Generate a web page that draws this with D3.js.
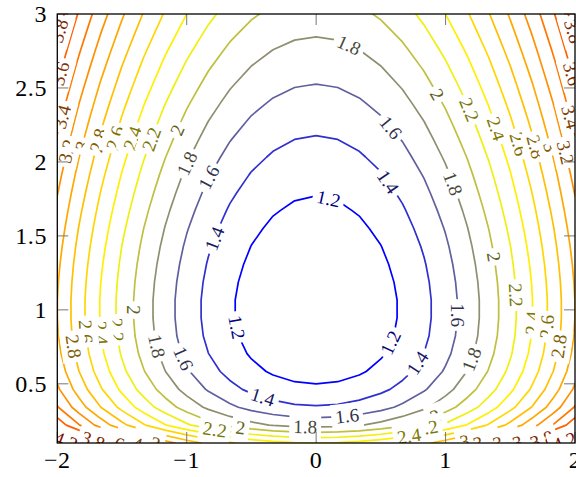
<!DOCTYPE html>
<html>
<head>
<meta charset="utf-8">
<title>contour</title>
<script src="https://cdn.jsdelivr.net/npm/d3@7"></script>
<style>
  body { margin: 0; background: #fff; }
  svg { display: block; }
  .tick-label { font-family: "Liberation Serif", serif; font-size: 24px; letter-spacing: 0.6px; fill: #000; }
  .clabel { font-family: "Liberation Serif", serif; font-size: 19px; }
</style>
</head>
<body>
<div id="chart"></div>
<script>
// sample grid (25 x 25), rows go from y = 0.1 (bottom) to y = 3 (top)
var xs = [-2, -1.833, -1.667, -1.5, -1.333, -1.167, -1, -0.833, -0.667, -0.5, -0.333, -0.167, 0,
          0.167, 0.333, 0.5, 0.667, 0.833, 1, 1.167, 1.333, 1.5, 1.667, 1.833, 2];
var ys = [0.1, 0.221, 0.342, 0.463, 0.583, 0.704, 0.825, 0.946, 1.067, 1.188, 1.308, 1.429, 1.55,
          1.671, 1.792, 1.913, 2.033, 2.154, 2.275, 2.396, 2.517, 2.638, 2.758, 2.879, 3];
var zRows = [
  [4.403,4.084,3.792,3.528,3.292,3.084,2.903,2.750,2.625,2.528,2.459,2.417,2.403,2.417,2.459,2.528,2.625,2.750,2.903,3.084,3.292,3.528,3.792,4.084,4.403],
  [3.731,3.412,3.120,2.856,2.620,2.412,2.231,2.078,1.953,1.856,1.787,1.745,1.731,1.745,1.787,1.856,1.953,2.078,2.231,2.412,2.620,2.856,3.120,3.412,3.731],
  [3.416,3.097,2.805,2.541,2.305,2.097,1.916,1.763,1.638,1.541,1.472,1.430,1.416,1.430,1.472,1.541,1.638,1.763,1.916,2.097,2.305,2.541,2.805,3.097,3.416],
  [3.234,2.915,2.623,2.359,2.123,1.915,1.734,1.581,1.456,1.359,1.290,1.248,1.234,1.248,1.290,1.359,1.456,1.581,1.734,1.915,2.123,2.359,2.623,2.915,3.234],
  [3.122,2.803,2.511,2.247,2.011,1.803,1.622,1.469,1.344,1.247,1.178,1.136,1.122,1.136,1.178,1.247,1.344,1.469,1.622,1.803,2.011,2.247,2.511,2.803,3.122],
  [3.055,2.736,2.444,2.180,1.944,1.736,1.555,1.402,1.277,1.180,1.111,1.069,1.055,1.069,1.111,1.180,1.277,1.402,1.555,1.736,1.944,2.180,2.444,2.736,3.055],
  [3.017,2.698,2.406,2.142,1.906,1.698,1.517,1.364,1.239,1.142,1.073,1.031,1.017,1.031,1.073,1.142,1.239,1.364,1.517,1.698,1.906,2.142,2.406,2.698,3.017],
  [3.002,2.683,2.391,2.127,1.891,1.683,1.502,1.349,1.224,1.127,1.058,1.016,1.002,1.016,1.058,1.127,1.224,1.349,1.502,1.683,1.891,2.127,2.391,2.683,3.002],
  [3.002,2.683,2.391,2.127,1.891,1.683,1.502,1.349,1.224,1.127,1.058,1.016,1.002,1.016,1.058,1.127,1.224,1.349,1.502,1.683,1.891,2.127,2.391,2.683,3.002],
  [3.016,2.697,2.405,2.141,1.905,1.697,1.516,1.363,1.238,1.141,1.072,1.030,1.016,1.030,1.072,1.141,1.238,1.363,1.516,1.697,1.905,2.141,2.405,2.697,3.016],
  [3.040,2.721,2.429,2.165,1.929,1.721,1.540,1.387,1.262,1.165,1.096,1.054,1.040,1.054,1.096,1.165,1.262,1.387,1.540,1.721,1.929,2.165,2.429,2.721,3.040],
  [3.072,2.753,2.461,2.197,1.961,1.753,1.572,1.419,1.294,1.197,1.128,1.086,1.072,1.086,1.128,1.197,1.294,1.419,1.572,1.753,1.961,2.197,2.461,2.753,3.072],
  [3.112,2.793,2.501,2.237,2.001,1.793,1.612,1.459,1.334,1.237,1.168,1.126,1.112,1.126,1.168,1.237,1.334,1.459,1.612,1.793,2.001,2.237,2.501,2.793,3.112],
  [3.158,2.839,2.547,2.283,2.047,1.839,1.658,1.505,1.380,1.283,1.214,1.172,1.158,1.172,1.214,1.283,1.380,1.505,1.658,1.839,2.047,2.283,2.547,2.839,3.158],
  [3.209,2.890,2.598,2.334,2.098,1.890,1.709,1.556,1.431,1.334,1.265,1.223,1.209,1.223,1.265,1.334,1.431,1.556,1.709,1.890,2.098,2.334,2.598,2.890,3.209],
  [3.264,2.945,2.653,2.389,2.153,1.945,1.764,1.611,1.486,1.389,1.320,1.278,1.264,1.278,1.320,1.389,1.486,1.611,1.764,1.945,2.153,2.389,2.653,2.945,3.264],
  [3.324,3.005,2.713,2.449,2.213,2.005,1.824,1.671,1.546,1.449,1.380,1.338,1.324,1.338,1.380,1.449,1.546,1.671,1.824,2.005,2.213,2.449,2.713,3.005,3.324],
  [3.387,3.068,2.776,2.512,2.276,2.068,1.887,1.734,1.609,1.512,1.443,1.401,1.387,1.401,1.443,1.512,1.609,1.734,1.887,2.068,2.276,2.512,2.776,3.068,3.387],
  [3.453,3.134,2.842,2.578,2.342,2.134,1.953,1.800,1.675,1.578,1.509,1.467,1.453,1.467,1.509,1.578,1.675,1.800,1.953,2.134,2.342,2.578,2.842,3.134,3.453],
  [3.522,3.203,2.911,2.647,2.411,2.203,2.022,1.869,1.744,1.647,1.578,1.536,1.522,1.536,1.578,1.647,1.744,1.869,2.022,2.203,2.411,2.647,2.911,3.203,3.522],
  [3.594,3.275,2.983,2.719,2.483,2.275,2.094,1.941,1.816,1.719,1.650,1.608,1.594,1.608,1.650,1.719,1.816,1.941,2.094,2.275,2.483,2.719,2.983,3.275,3.594],
  [3.668,3.349,3.057,2.793,2.557,2.349,2.168,2.015,1.890,1.793,1.724,1.682,1.668,1.682,1.724,1.793,1.890,2.015,2.168,2.349,2.557,2.793,3.057,3.349,3.668],
  [3.744,3.425,3.133,2.869,2.633,2.425,2.244,2.091,1.966,1.869,1.800,1.758,1.744,1.758,1.800,1.869,1.966,2.091,2.244,2.425,2.633,2.869,3.133,3.425,3.744],
  [3.822,3.503,3.211,2.947,2.711,2.503,2.322,2.169,2.044,1.947,1.878,1.836,1.822,1.836,1.878,1.947,2.044,2.169,2.322,2.503,2.711,2.947,3.211,3.503,3.822],
  [3.901,3.582,3.290,3.026,2.790,2.582,2.401,2.248,2.123,2.026,1.957,1.915,1.901,1.915,1.957,2.026,2.123,2.248,2.401,2.582,2.790,3.026,3.290,3.582,3.901]
];

var levels = [1.2, 1.4, 1.6, 1.8, 2, 2.2, 2.4, 2.6, 2.8, 3, 3.2, 3.4, 3.6, 3.8, 4, 4.2, 4.4];
var xTicks = [-2, -1, 0, 1, 2];
var yTicks = [0.5, 1, 1.5, 2, 2.5, 3];

// contour labels: [level, x, y] (approximate spot, snapped onto the line)
var contourLabels = [
  [1.8, 0.247, 2.777], [1.6, 0.572, 2.229], [1.4, 0.533, 1.851], [1.2, 0.093, 1.742],
  [2, 0.927, 2.452], [2.2, 1.175, 2.351], [2.4, 1.383, 2.222], [2.6, 1.538, 2.114],
  [2.8, 1.692, 2.101], [3, 1.808, 2.101], [3.2, 1.94, 2.067], [3.4, 1.94, 2.297],
  [3.6, 1.947, 2.588], [3.8, 1.947, 2.872],
  [3.8, -1.955, 2.878], [3.6, -1.963, 2.594], [3.4, -1.963, 2.304], [3.2, -1.963, 2.08],
  [3, -1.839, 2.114], [2.8, -1.692, 2.148], [2.6, -1.553, 2.162], [2.4, -1.422, 2.162],
  [2.2, -1.298, 2.162], [2, -1.074, 2.216], [1.8, -1.02, 1.999], [1.6, -0.819, 1.891],
  [1.4, -0.796, 1.485], [1.2, -0.649, 0.877],
  [2, -1.422, 0.999], [2.2, -1.569, 0.863], [2.4, -1.692, 0.843], [2.6, -1.824, 0.85],
  [2.8, -1.901, 0.749], [1.8, -1.26, 0.749], [1.6, -1.051, 0.661], [1.4, -0.417, 0.397],
  [1.6, 0.24, 0.275], [1.8, -0.085, 0.201], [2, -0.587, 0.187], [2.2, -0.796, 0.12],
  [3.2, -1.298, 0.1], [3.4, -1.437, 0.1], [3.6, -1.576, 0.1], [3.8, -1.731, 0.1], [4.2, -1.94, 0.1],
  [1.2, 0.58, 0.776], [1.4, 0.773, 0.647], [1.6, 1.097, 0.965], [1.8, 1.213, 0.661],
  [1.8, 1.028, 1.844], [2, 1.368, 1.357], [2.2, 1.546, 1.1], [2.4, 1.677, 0.911],
  [2.6, 1.816, 0.884], [2.8, 1.917, 0.749],
  [2, 0.927, 0.268], [2.2, 0.85, 0.201], [2.4, 0.719, 0.14],
  [3, 1.151, 0.1], [3.2, 1.306, 0.1], [3.4, 1.46, 0.1], [3.6, 1.615, 0.1], [3.8, 1.754, 0.1], [4.2, 1.924, 0.1]
];

var width = 576, height = 477;
var plot = {left: 57.3, right: 575, top: 14, bottom: 443};

var svg = d3.select("#chart").append("svg")
    .attr("width", width)
    .attr("height", height);

var x = d3.scaleLinear().domain([xs[0], xs[xs.length - 1]]).range([plot.left, plot.right]);
var y = d3.scaleLinear().domain([ys[0], ys[ys.length - 1]]).range([plot.bottom, plot.top]);

// d3.contours puts sample i at i + 0.5
var nx = xs.length, ny = ys.length;
var gx = d3.scaleLinear().domain([0.5, nx - 0.5]).range([xs[0], xs[nx - 1]]);
var gy = d3.scaleLinear().domain([0.5, ny - 0.5]).range([ys[0], ys[ny - 1]]);

// pgfplots "hot" colormap over the level range
var lo = levels[0], hi = levels[levels.length - 1];
var color = d3.scaleLinear()
    .domain([lo, lo + (hi - lo) / 3, lo + 2 * (hi - lo) / 3, hi])
    .range(["rgb(0,0,255)", "rgb(255,255,0)", "rgb(255,128,0)", "rgb(255,0,0)"]);

var values = [];
zRows.forEach(function(r) { r.forEach(function(v) { values.push(v); }); });

var contours = d3.contours().size([nx, ny]).thresholds(levels)(values);

svg.append("defs").append("clipPath").attr("id", "plotclip")
  .append("rect")
    .attr("x", plot.left).attr("y", plot.top)
    .attr("width", plot.right - plot.left).attr("height", plot.bottom - plot.top);

var g = svg.append("g").attr("clip-path", "url(#plotclip)");

var line = d3.line();
var ringsByLevel = {};

contours.forEach(function(c) {
  var rings = [];
  c.coordinates.forEach(function(poly) {
    poly.forEach(function(ring) {
      rings.push(ring.map(function(p) { return [x(gx(p[0])), y(gy(p[1]))]; }));
    });
  });
  ringsByLevel[c.value] = rings;
  g.append("path")
    .attr("d", rings.map(function(r) { return line(r); }).join(""))
    .attr("fill", "none")
    .attr("stroke", color(c.value))
    .attr("stroke-width", 1.7)
    .attr("stroke-linejoin", "round");
});

function inside(p) {
  return p[0] >= plot.left - 0.5 && p[0] <= plot.right + 0.5 &&
         p[1] >= plot.top - 0.5 && p[1] <= plot.bottom + 0.5;
}

// snap a label onto its contour line and take the local slope
function placeLabel(lv, lx, ly) {
  var px = x(lx), py = y(ly);
  var best = null;
  (ringsByLevel[lv] || []).forEach(function(r) {
    for (var i = 0; i < r.length - 1; i++) {
      var a = r[i], b = r[i + 1];
      if (!inside(a) || !inside(b)) continue;
      var dx = b[0] - a[0], dy = b[1] - a[1];
      var len2 = dx * dx + dy * dy;
      if (len2 === 0) continue;
      var t = ((px - a[0]) * dx + (py - a[1]) * dy) / len2;
      t = Math.max(0, Math.min(1, t));
      var qx = a[0] + t * dx, qy = a[1] + t * dy;
      var d = (qx - px) * (qx - px) + (qy - py) * (qy - py);
      if (!best || d < best.d) best = {d: d, x: qx, y: qy, ang: Math.atan2(dy, dx) * 180 / Math.PI};
    }
  });
  if (!best) return null;
  var ang = best.ang;
  if (ang > 90) ang -= 180;
  if (ang <= -90) ang += 180;
  return {x: best.x, y: best.y, ang: ang};
}

contourLabels.forEach(function(l) {
  var pos = placeLabel(l[0], l[1], l[2]);
  if (!pos) return;
  var lab = g.append("g")
    .attr("transform", "translate(" + pos.x + "," + pos.y + ") rotate(" + pos.ang + ")");
  var box = lab.append("rect").attr("fill", "#fff");
  var txt = lab.append("text")
    .attr("class", "clabel")
    .attr("text-anchor", "middle")
    .attr("y", 6.5)
    .attr("fill", d3.interpolateRgb(color(l[0]), "#000")(0.5))
    .text(d3.format("~g")(l[0]));
  var bb = txt.node().getBBox();
  box.attr("x", bb.x - 4).attr("y", -bb.height / 2 - 2)
     .attr("width", bb.width + 8).attr("height", bb.height + 4);
});

// ticks (inward, on all four sides)
var ticks = svg.append("g").attr("stroke", "#777").attr("stroke-width", 1);
xTicks.forEach(function(t) {
  ticks.append("line").attr("x1", x(t)).attr("x2", x(t)).attr("y1", plot.bottom).attr("y2", plot.bottom - 11);
  ticks.append("line").attr("x1", x(t)).attr("x2", x(t)).attr("y1", plot.top).attr("y2", plot.top + 11);
});
yTicks.forEach(function(t) {
  ticks.append("line").attr("x1", plot.left).attr("x2", plot.left + 11).attr("y1", y(t)).attr("y2", y(t));
  ticks.append("line").attr("x1", plot.right).attr("x2", plot.right - 11).attr("y1", y(t)).attr("y2", y(t));
});

svg.append("rect")
  .attr("x", plot.left).attr("y", plot.top)
  .attr("width", plot.right - plot.left).attr("height", plot.bottom - plot.top)
  .attr("fill", "none").attr("stroke", "#000").attr("stroke-width", 1.3);

svg.selectAll(".xlab").data(xTicks).enter().append("text")
  .attr("class", "tick-label")
  .attr("x", function(d) { return x(d); })
  .attr("y", 468)
  .attr("text-anchor", "middle")
  .text(function(d) { return d < 0 ? "\u2212" + Math.abs(d) : d; });

svg.selectAll(".ylab").data(yTicks).enter().append("text")
  .attr("class", "tick-label")
  .attr("x", 47)
  .attr("y", function(d) { return y(d) + 8; })
  .attr("text-anchor", "end")
  .text(function(d) { return d; });
</script>
</body>
</html>
